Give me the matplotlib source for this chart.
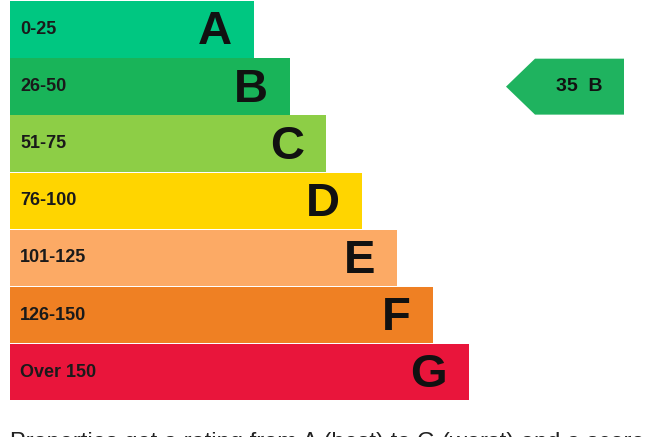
import matplotlib
matplotlib.use('Agg')
import matplotlib.pyplot as plt
from matplotlib.patches import Polygon

# rating bands, top to bottom
bands = ['A', 'B', 'C', 'D', 'E', 'F', 'G']
ranges = ['0-25', '26-50', '51-75', '76-100', '101-125', '126-150', 'Over 150']
lengths = [244, 280, 316, 352, 387, 423, 459]
colors = ['#00c781', '#19b459', '#8dce46', '#ffd500', '#fcaa65', '#ef8023', '#e9153b']

score = 35
score_band = 'B'
footer = 'Properties get a rating from A (best) to G (worst) and a score.'

plt.rcParams['font.family'] = ['Liberation Sans', 'DejaVu Sans']

fig = plt.figure(figsize=(6.55, 4.37), dpi=100)
ax = fig.add_axes([0, 0, 1, 1])
ax.set_xlim(0, 655)
ax.set_ylim(7.136, -0.5175)
ax.axis('off')

left = 10
rows = list(range(len(bands)))
ax.barh(rows, lengths, left=left, height=0.99, color=colors, linewidth=0)

for i, (band, rng, length) in enumerate(zip(bands, ranges, lengths)):
    ax.text(left + 10, i, rng, ha='left', va='center', fontsize=13,
            fontweight='bold', color='#1a1a1a')
    ax.text(left + length - 22, i + 0.05, band, ha='right', va='center',
            fontsize=34, fontweight='bold', color='#111111')

# pointer showing the current rating
r = bands.index(score_band)
h = 0.49
arrow = Polygon([(506, r), (535, r - h), (624, r - h), (624, r + h), (535, r + h)],
                closed=True, facecolor='#1fb35f', edgecolor='none')
ax.add_patch(arrow)
ax.text(579, r, f'{score}  {score_band}', ha='center', va='center',
        fontsize=14, fontweight='bold', color='#111111')

ax.text(10, 7.34, footer, ha='left', va='baseline', fontsize=17, color='#222222')

fig.savefig('out.png', dpi=100)
